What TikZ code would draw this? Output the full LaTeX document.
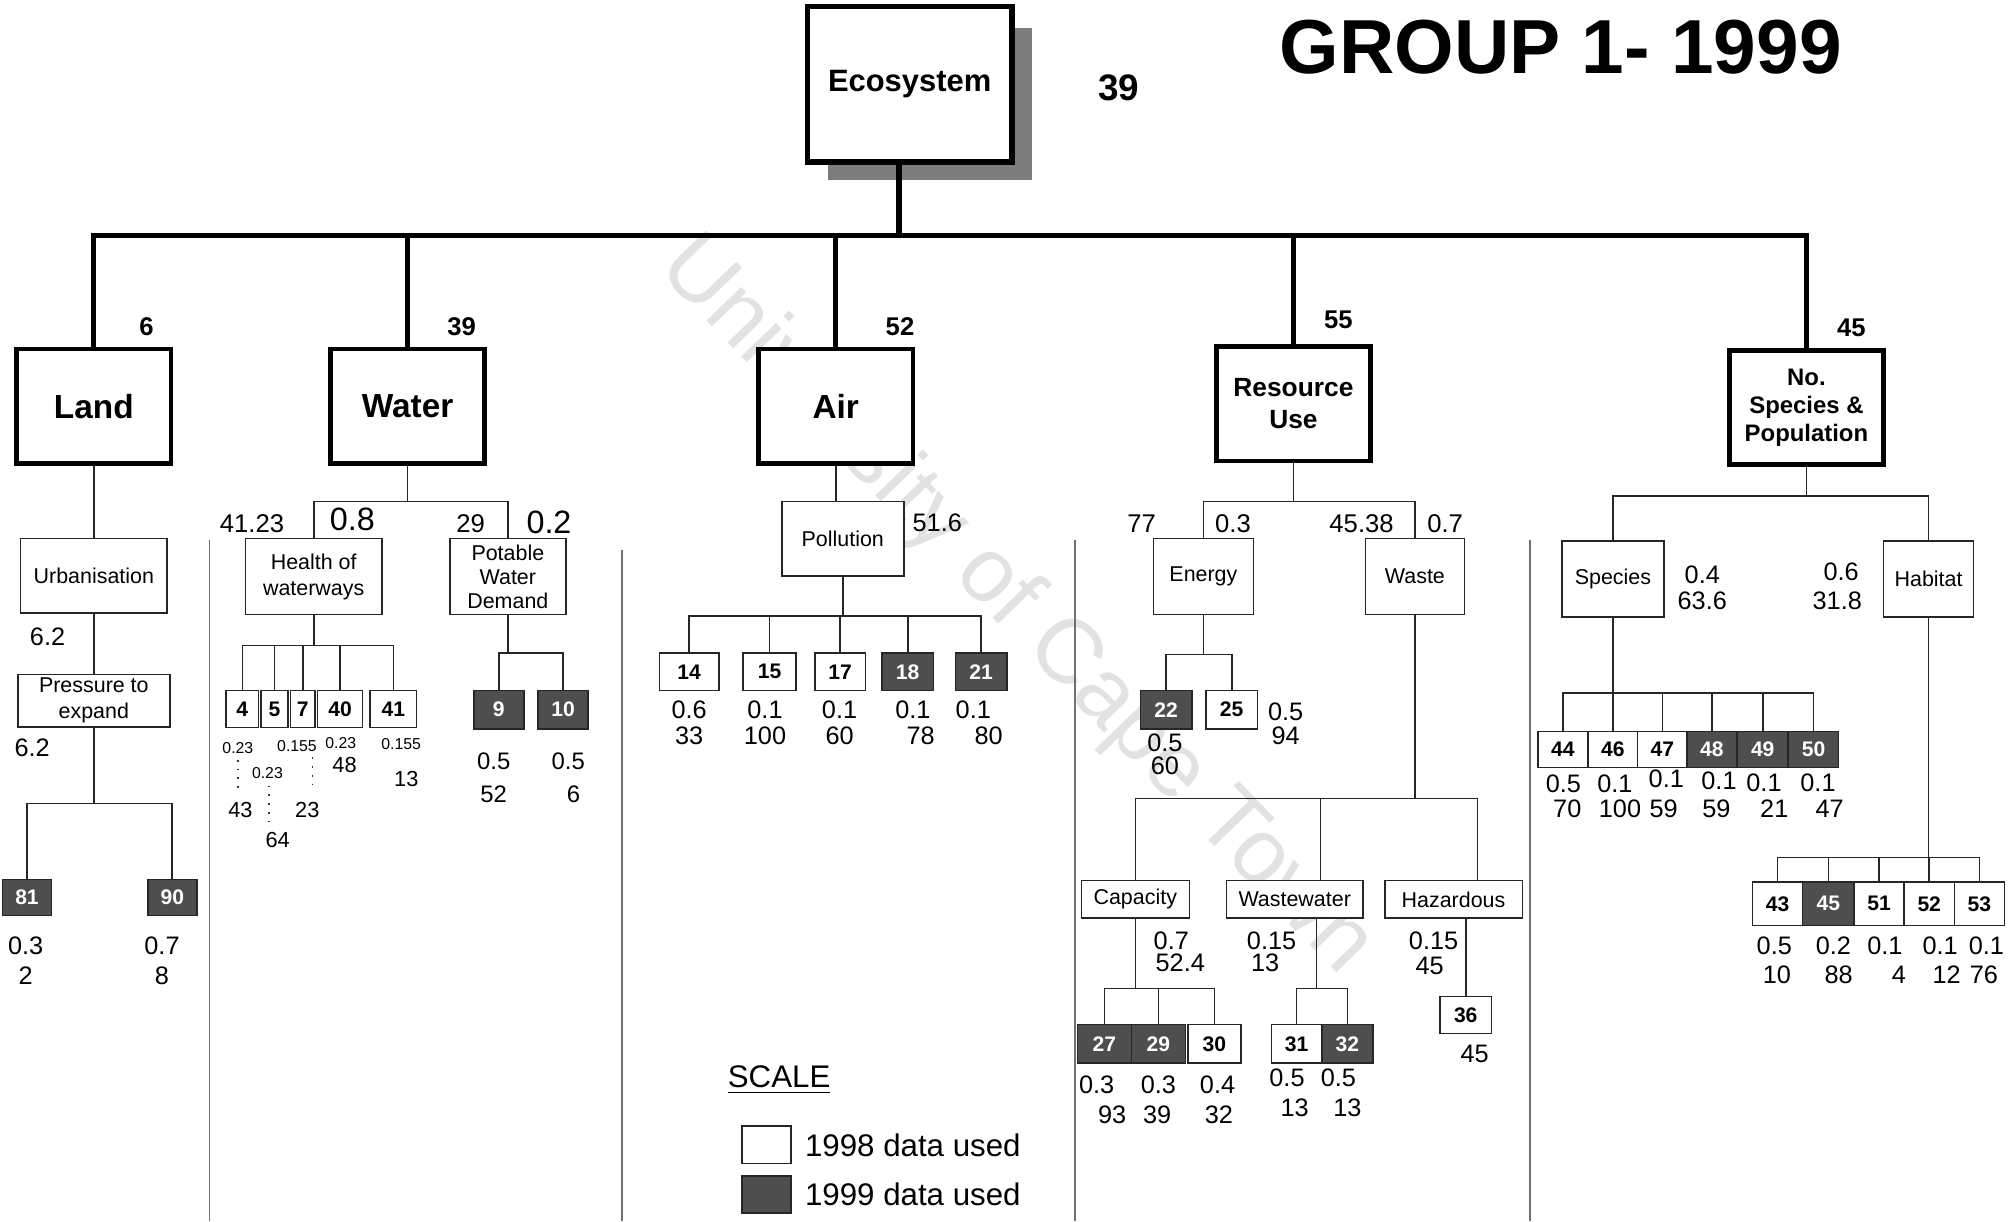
\documentclass[tikz,border=0pt]{standalone}
\usepackage{fontspec}
\setmainfont{Liberation Sans}
\usetikzlibrary{positioning}
\newlength\unitpx
\setlength\unitpx{0.012857cm}
\definecolor{Shade}{HTML}{4E4E4E}
\definecolor{ShadowGrey}{HTML}{7C7C7C}
\definecolor{Mark}{HTML}{E2E2E2}
\definecolor{Rule}{HTML}{707070}
\tikzset{
  trunk/.style={line width=1.4pt,draw=black},
  twig/.style={line width=0.45pt,draw=black!85},
  sepline/.style={line width=0.5pt,draw=Rule},
  leader/.style={dotted,line width=0.5pt,draw=black!80},
  topbox/.style={draw,line width=1.6pt,fill=white,minimum width=159\unitpx,minimum height=121\unitpx,
    font=\fontsize{8.8}{10}\selectfont\bfseries},
  catbox/.style={draw,line width=1.3pt,fill=white,minimum width=120\unitpx,minimum height=89\unitpx,
    align=center,inner sep=1pt,font=\fontsize{9.5}{11}\selectfont\bfseries},
  subbox/.style={draw=black!85,line width=0.45pt,fill=white,align=center,inner sep=1pt,
    font=\fontsize{6.1}{7.4}\selectfont},
  indbox/.style={draw=black!85,line width=0.45pt,fill=white,minimum height=29\unitpx,inner sep=0pt,
    font=\fontsize{6}{7}\selectfont\bfseries},
  darkbox/.style={indbox,fill=Shade,text=white},
  tagtext/.style={inner sep=0pt,font=\fontsize{7.3}{8}\selectfont\bfseries},
  valtext/.style={inner sep=0pt,font=\fontsize{7.2}{8.2}\selectfont},
  bigval/.style={inner sep=0pt,font=\fontsize{9.2}{10}\selectfont},
  tinyval/.style={inner sep=0pt,font=\fontsize{4.5}{5}\selectfont},
  midval/.style={inner sep=0pt,font=\fontsize{6.2}{7}\selectfont},
}

\begin{document}
\begin{tikzpicture}[x=0.012857cm,y=-0.012857cm]
  \fill[white] (0,0) rectangle (1568,950);
  \useasboundingbox (0,0) rectangle (1568,950);

  % watermark of the scan
  \node[font=\fontsize{26}{26}\selectfont,text=Mark,rotate=-46] (mark) at (790,472) {University of Cape Town};

  % column separators
  \draw[sepline] (163,420) -- (163,950);
  \draw[sepline] (484,428) -- (484,950);
  \draw[sepline] (836,420) -- (836,950);
  \draw[sepline] (1190,420) -- (1190,950);

  % top of the tree
  \fill[ShadowGrey] (644,22) rectangle (803,140);
  \node[topbox] (eco) at (707.5,65.5) {Ecosystem};
  \node[font=\fontsize{10.5}{12}\selectfont\bfseries,inner sep=0pt] (ecoval) at (870,68) {39};
  \node[font=\fontsize{21.8}{24}\selectfont\bfseries,inner sep=0pt] (title) at (1214,37) {GROUP 1- 1999};

  \node[catbox] (land) at (73,316) {Land};
  \node[catbox] (water) at (317,316) {Water};
  \node[catbox] (air) at (650,316) {Air};
  \node[catbox,font=\fontsize{7.5}{9}\selectfont\bfseries] (resuse) at (1006,314) {Resource\\Use};
  \node[catbox,font=\fontsize{6.8}{8}\selectfont\bfseries] (nsp) at (1405,317) {No.\\Species \&\\Population};

  \coordinate (hub) at (699,183);
  \draw[trunk,line width=1.6pt] (eco.south -| hub) -- (hub);
  \foreach \c in {land,water,air,resuse,nsp}
    \draw[trunk] (hub) -| (\c.north);

  \foreach \x/\y/\t in {114/254/6, 359/254/39, 700/254/52, 1041/249/55, 1440/255/45}
    \node[tagtext] (t\x-\y) at (\x,\y) {\t};

  % Land
  \node[subbox,minimum width=114\unitpx,minimum height=58\unitpx] (urb) at (73,448) {Urbanisation};
  \node[subbox,minimum width=118\unitpx,minimum height=40\unitpx] (pte) at (73,545) {Pressure to\\expand};
  \node[darkbox,minimum width=38\unitpx,minimum height=28\unitpx] (i81) at (21,698) {81};
  \node[darkbox,minimum width=38\unitpx,minimum height=28\unitpx] (i90) at (134,698) {90};
  \draw[twig] (land) -- (urb);
  \draw[twig] (urb) -- (pte);
  \coordinate (landfork) at (73,625);
  \foreach \c in {i81,i90}
    \draw[twig] (pte.south) -- (landfork) -| (\c.north);

  % Water
  \node[subbox,minimum width=106\unitpx,minimum height=59\unitpx] (hw) at (244,448.5) {Health of\\waterways};
  \node[subbox,minimum width=90\unitpx,minimum height=59\unitpx,font=\fontsize{6.1}{6.9}\selectfont] (pwd) at (395,448.5) {Potable\\Water\\Demand};
  \coordinate (waterfork) at (317,390);
  \foreach \c in {hw,pwd}
    \draw[twig] (water.south) -- (waterfork) -| (\c.north);
  \node[tagtext,font=\fontsize{7.3}{8}\selectfont] (w4123) at (196,407) {41.23};
  \node[bigval] (w08) at (274,404) {0.8};
  \node[tagtext,font=\fontsize{7.3}{8}\selectfont] (w29) at (366,407) {29};
  \node[bigval] (w02) at (427,406) {0.2};

  \foreach \n/\x/\w in {4/188.5/25, 5/213.5/21, 7/235.5/19, 40/264.5/35, 41/306/36}
    \node[indbox,minimum width=\w\unitpx] (i\n) at (\x,551.5) {\n};
  \coordinate (hwfork) at (244,502);
  \foreach \c in {i4,i5,i7,i40,i41}
    \draw[twig] (hw.south) -- (hwfork) -| (\c.north);
  \foreach \x/\y/\t in {185/582/0.23, 208/601/0.23, 231/580/0.155, 265/578/0.23, 312/579/0.155}
    \node[tinyval] (s\x-\y) at (\x,\y) {\t};
  \foreach \x/\y/\t in {187/630/43, 216/653/64, 239/630/23, 268/595/48, 316/606/13}
    \node[midval] (m\x-\y) at (\x,\y) {\t};
  \draw[leader] (185,591) -- (185,618);
  \draw[leader] (209,611) -- (209,641);
  \draw[leader] (243,589) -- (243,612);

  \node[darkbox,minimum width=39\unitpx,minimum height=30\unitpx] (i9) at (388,552) {9};
  \node[darkbox,minimum width=39\unitpx,minimum height=30\unitpx] (i10) at (438,552) {10};
  \coordinate (pwdfork) at (395,508);
  \foreach \c in {i9,i10}
    \draw[twig] (pwd.south) -- (pwdfork) -| (\c.north);

  % Air
  \node[subbox,minimum width=95\unitpx,minimum height=58\unitpx] (pol) at (655.5,419) {Pollution};
  \draw[twig] (air.south) -- (air.south |- pol.north);
  \node[valtext] (a516) at (729,407) {51.6};
  \foreach \n/\x/\w in {14/536/46, 15/598.5/41, 17/653.5/39}
    \node[indbox,minimum width=\w\unitpx] (i\n) at (\x,522.5) {\n};
  \foreach \n/\x/\w in {18/706/40, 21/763/40}
    \node[darkbox,minimum width=\w\unitpx] (i\n) at (\x,522.5) {\n};
  \coordinate (polfork) at (655.5,479);
  \foreach \c in {i14,i15,i17,i18,i21}
    \draw[twig] (pol.south) -- (polfork) -| (\c.north);

  % Resource Use
  \node[subbox,minimum width=78\unitpx,minimum height=59\unitpx] (en) at (936,448.5) {Energy};
  \node[subbox,minimum width=77\unitpx,minimum height=59\unitpx] (wa) at (1100.5,448.5) {Waste};
  \coordinate (resfork) at (1006,390);
  \foreach \c in {en,wa}
    \draw[twig] (resuse.south) -- (resfork) -| (\c.north);
  \foreach \x/\y/\t in {888/407/77, 959/407/0.3, 1059/407/45.38, 1124/407/0.7}
    \node[valtext,font=\fontsize{7.3}{8}\selectfont] (r\x-\y) at (\x,\y) {\t};

  \node[darkbox,minimum width=40\unitpx,minimum height=30\unitpx] (i22) at (907,552) {22};
  \node[indbox,minimum width=40\unitpx,minimum height=30\unitpx] (i25) at (958,552) {25};
  \coordinate (enfork) at (936,509);
  \foreach \c in {i22,i25}
    \draw[twig] (en.south) -- (enfork) -| (\c.north);

  \node[subbox,minimum width=84\unitpx,minimum height=29\unitpx] (cap) at (883,699.5) {Capacity};
  \node[subbox,minimum width=106\unitpx,minimum height=29\unitpx] (ww) at (1007,699.5) {Wastewater};
  \node[subbox,minimum width=107\unitpx,minimum height=29\unitpx] (haz) at (1130.5,699.5) {Hazardous};
  \coordinate (wafork) at (1100.5,621);
  \coordinate (wwtop) at (1027,685);
  \coordinate (haztop) at (1149,685);
  \foreach \c in {cap.north,wwtop,haztop}
    \draw[twig] (wa.south) -- (wafork) -| (\c);

  \node[darkbox,minimum width=42\unitpx,minimum height=30\unitpx] (i27) at (859,812) {27};
  \node[darkbox,minimum width=42\unitpx,minimum height=30\unitpx] (i29) at (901,812) {29};
  \node[indbox,minimum width=41\unitpx,minimum height=30\unitpx] (i30) at (944.5,812) {30};
  \coordinate (capfork) at (883,769);
  \foreach \c in {i27,i29,i30}
    \draw[twig] (cap.south) -- (capfork) -| (\c.north);
  \node[indbox,minimum width=39\unitpx,minimum height=30\unitpx] (i31) at (1008.5,812) {31};
  \node[darkbox,minimum width=40\unitpx,minimum height=30\unitpx] (i32) at (1048,812) {32};
  \coordinate (wwfork) at (1024,769);
  \foreach \c in {i31,i32}
    \draw[twig] (ww.south -| wwfork) -- (wwfork) -| (\c.north);
  \node[indbox,minimum width=40\unitpx] (i36) at (1140,789.5) {36};
  \draw[twig] (haz.south -| i36.north) -- (i36.north);

  % No. Species & Population
  \node[subbox,minimum width=79\unitpx,minimum height=59\unitpx] (sp) at (1254.5,450.5) {Species};
  \node[subbox,minimum width=70\unitpx,minimum height=59\unitpx] (hab) at (1500,450.5) {Habitat};
  \coordinate (nspfork) at (1405,386);
  \foreach \c in {sp,hab}
    \draw[twig] (nsp.south) -- (nspfork) -| (\c.north);

  \foreach \n/\x in {44/1215.5, 46/1254.5, 47/1293}
    \node[indbox,minimum width=39\unitpx,minimum height=28\unitpx] (i\n) at (\x,583) {\n};
  \foreach \n/\x in {48/1331.5, 49/1371, 50/1410.5}
    \node[darkbox,minimum width=39\unitpx,minimum height=28\unitpx] (i\n) at (\x,583) {\n};
  \coordinate (spfork) at (1254.5,539);
  \foreach \c in {i44,i46,i47,i48,i49,i50}
    \draw[twig] (sp.south) -- (spfork) -| (\c.north);

  \foreach \n/\x in {43/1382.5, 51/1461.5, 52/1500.5, 53/1539.5}
    \node[indbox,minimum width=39\unitpx,minimum height=34\unitpx] (i\n) at (\x,703) {\n};
  \node[darkbox,minimum width=40\unitpx,minimum height=34\unitpx] (i45) at (1422,703) {45};
  \coordinate (habfork) at (1500,667);
  \foreach \c in {i43,i45,i51,i52,i53}
    \draw[twig] (hab.south) -- (habfork) -| (\c.north);

  % weights and scores
  \foreach \x/\y/\t in {37/495/6.2, 25/582/6.2, 20/736/0.3, 20/759/2, 126/736/0.7, 126/759/8,
      536/552/0.6, 536/572/33, 595/552/0.1, 595/572/100, 653/552/0.1, 653/572/60,
      710/552/0.1, 716/572/78, 757/552/0.1, 769/572/80,
      1000/554/0.5, 1000/572/94, 906/578/0.5, 906/596/60,
      911/732/0.7, 918/749/52.4, 989/732/0.15, 984/749/13, 1115/732/0.15, 1112/751/45,
      853/844/0.3, 865/867/93, 901/844/0.3, 900/867/39, 947/844/0.4, 948/867/32,
      1001/838/0.5, 1007/862/13, 1041/838/0.5, 1048/862/13, 1147/820/45,
      1324/447/0.4, 1324/467/63.6, 1432/445/0.6, 1429/467/31.8,
      1216/610/0.5, 1219/629/70, 1256/610/0.1, 1260/629/100, 1296/606/0.1, 1294/629/59,
      1337/607/0.1, 1335/629/59, 1372/609/0.1, 1380/629/21, 1414/609/0.1, 1423/629/47,
      1380/736/0.5, 1382/758/10, 1426/736/0.2, 1430/758/88, 1466/736/0.1, 1477/758/4,
      1509/736/0.1, 1514/758/12, 1545/736/0.1, 1543/758/76}
    \node[valtext] (v\x-\y) at (\x,\y) {\t};
  \foreach \x/\y/\t in {384/592/0.5, 384/618/52, 442/592/0.5, 446/618/6}
    \node[valtext,font=\fontsize{6.8}{7.5}\selectfont] (p\x-\y) at (\x,\y) {\t};

  % legend
  \node[inner sep=0pt,font=\fontsize{8.9}{10}\selectfont] (scale) at (606,840) {\underline{SCALE}};
  \node[indbox,minimum width=38\unitpx] (leg98) at (596,890.5) {};
  \node[darkbox,minimum width=38\unitpx] (leg99) at (596,929) {};
  \node[inner sep=0pt,font=\fontsize{8.9}{10}\selectfont,right=10\unitpx of leg98] (leg98text) {1998 data used};
  \node[inner sep=0pt,font=\fontsize{8.9}{10}\selectfont,right=10\unitpx of leg99] (leg99text) {1999 data used};
\end{tikzpicture}
\end{document}
